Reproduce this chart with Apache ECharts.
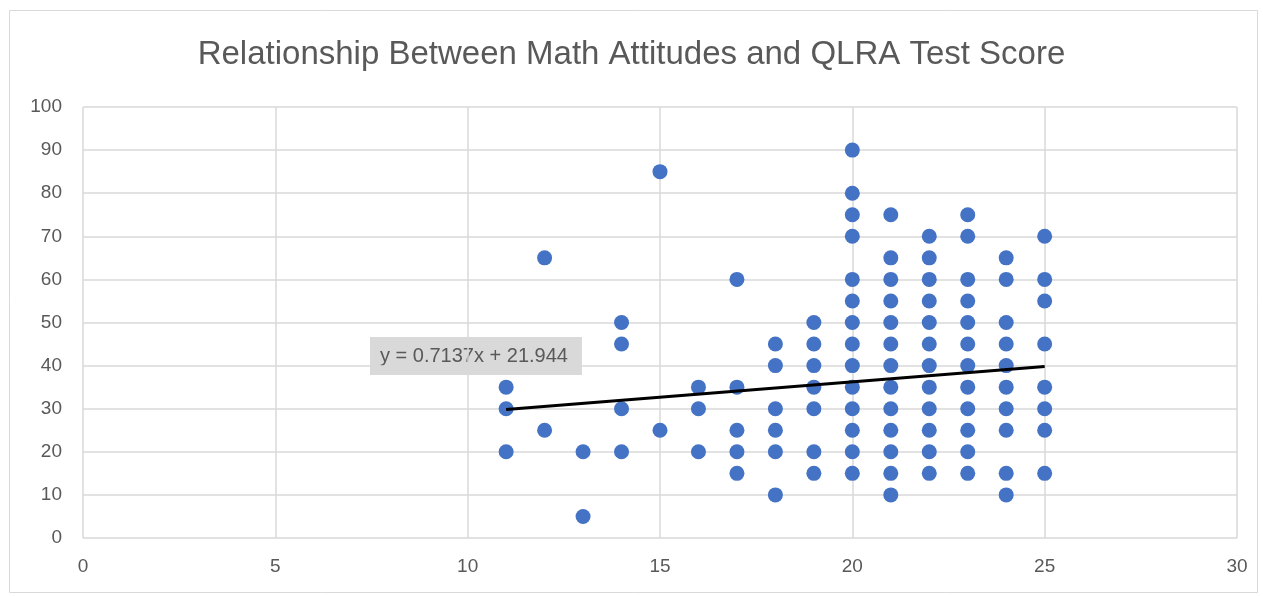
<!DOCTYPE html>
<html>
<head>
<meta charset="utf-8">
<script src="https://cdn.jsdelivr.net/npm/echarts@6/dist/echarts.min.js"></script>
<style>
  html, body { margin: 0; padding: 0; background: #fff; }
  #main { width: 1263px; height: 596px; }
</style>
</head>
<body>
<div id="main"></div>
<script>
// attitude score (x) and QLRA score (y), one column per x value
const xValues = [11, 12, 13, 14, 15, 16, 17, 18, 19, 20, 21, 22, 23, 24, 25];
const scoresByX = [
  [35, 30, 20],
  [65, 25],
  [20, 5],
  [50, 45, 30, 20],
  [85, 25],
  [35, 30, 20],
  [60, 35, 25, 20, 15],
  [45, 40, 30, 25, 20, 10],
  [50, 45, 40, 35, 30, 20, 15],
  [90, 80, 75, 70, 60, 55, 50, 45, 40, 35, 30, 25, 20, 15],
  [75, 65, 60, 55, 50, 45, 40, 35, 30, 25, 20, 15, 10],
  [70, 65, 60, 55, 50, 45, 40, 35, 30, 25, 20, 15],
  [75, 70, 60, 55, 50, 45, 40, 35, 30, 25, 20, 15],
  [65, 60, 50, 45, 40, 35, 30, 25, 15, 10],
  [70, 60, 55, 45, 35, 30, 25, 15]
];
// trendline from the chart label
const slope = 0.7137;
const intercept = 21.944;
const trendRange = [11, 25];

const points = [];
xValues.forEach((x, i) => {
  scoresByX[i].forEach(v => points.push([x, v]));
});
const trend = trendRange.map(x => [x, slope * x + intercept]);

const font = "'Liberation Sans', Arial, sans-serif";
const chart = echarts.init(document.getElementById('main'));
chart.setOption({
  backgroundColor: '#ffffff',
  animation: false,
  title: {
    text: 'Relationship Between Math Attitudes and QLRA Test Score',
    left: 'center',
    top: 33,
    textStyle: { fontFamily: font, fontSize: 33, fontWeight: 'normal', color: '#595959' }
  },
  grid: { left: 83, right: 26, top: 107, bottom: 58 },
  xAxis: {
    type: 'value', min: 0, max: 30, interval: 5,
    axisLine: { show: false },
    axisTick: { show: false },
    splitLine: { lineStyle: { color: '#d9d9d9', width: 1.5 } },
    axisLabel: { fontFamily: font, fontSize: 19, color: '#595959', margin: 19 }
  },
  yAxis: {
    type: 'value', min: 0, max: 100, interval: 10,
    axisLine: { show: false },
    axisTick: { show: false },
    splitLine: { lineStyle: { color: '#d9d9d9', width: 1.5 } },
    axisLabel: { fontFamily: font, fontSize: 19, color: '#595959', margin: 21 }
  },
  graphic: [{
    type: 'rect',
    left: 7, top: 8,
    shape: { width: 1248, height: 582 },
    style: { fill: 'none', stroke: '#d9d9d9', lineWidth: 1 },
    silent: true
  }, {
    type: 'text',
    left: 370, top: 337,
    style: {
      text: 'y = 0.7137x + 21.944',
      fontFamily: font, fontSize: 20, fill: '#595959',
      backgroundColor: '#d9d9d9',
      padding: [9, 14, 9, 10]
    }
  }],
  series: [{
    type: 'scatter',
    data: points,
    symbolSize: 15,
    itemStyle: { color: '#4472c4', opacity: 1 }
  }, {
    type: 'line',
    data: trend,
    symbol: 'none',
    z: 3,
    lineStyle: { color: '#000000', width: 3 }
  }]
});
</script>
</body>
</html>
